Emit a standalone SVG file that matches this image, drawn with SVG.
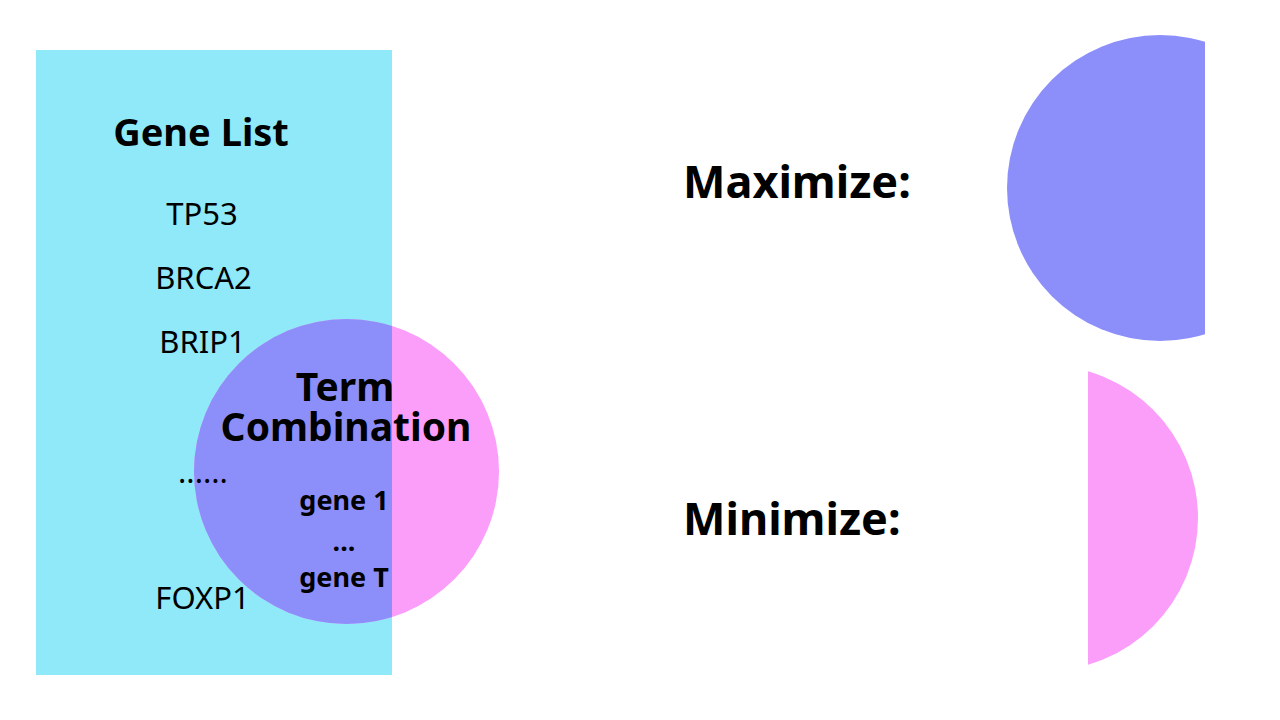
<svg xmlns="http://www.w3.org/2000/svg" width="1280" height="720" viewBox="0 0 1280 720">
<defs>
<style>
text{font-family:"Noto Sans","Open Sans","DejaVu Sans",sans-serif;fill:#000;}
.b{font-weight:bold;}
.c{text-anchor:middle;}
.gene{font-size:31px;}
</style>
<clipPath id="rectClip"><rect x="36" y="50" width="356" height="625"/></clipPath>
<clipPath id="maxClip"><rect x="990" y="20" width="215" height="340"/></clipPath>
<clipPath id="minClip"><rect x="1088" y="360" width="200" height="320"/></clipPath>
</defs>
<rect width="1280" height="720" fill="#ffffff"/>
<g id="gene-list">
<rect x="36" y="50" width="356" height="625" fill="#8fe9f9"/>
</g>
<g id="term-combination">
<circle cx="346.5" cy="471.5" r="152.5" fill="#fa9efa"/>
<circle cx="346.5" cy="471.5" r="152.5" fill="#8c8ffa" clip-path="url(#rectClip)"/>
</g>
<g id="gene-list-labels">
<text class="b c" x="201" y="146" font-size="38">Gene List</text>
<text class="gene c" x="202" y="225">TP53</text>
<text class="gene c" x="203.5" y="289">BRCA2</text>
<text class="gene c" x="202.5" y="353">BRIP1</text>
<text class="gene c" x="203" y="483">......</text>
<text class="gene c" x="202.5" y="609" font-size="31.5">FOXP1</text>
</g>
<g id="term-combination-labels">
<text class="b c" x="345" y="401" font-size="39">Term</text>
<text class="b c" x="346" y="441" font-size="39">Combination</text>
<text class="b c" x="344" y="510" font-size="27">gene 1</text>
<text class="b c" x="344" y="551" font-size="27">...</text>
<text class="b c" x="344" y="587" font-size="27">gene T</text>
</g>
<g id="maximize">
<text class="b" x="683" y="198" font-size="45">Maximize:</text>
<circle cx="1160" cy="188" r="153" fill="#8c8ffa" clip-path="url(#maxClip)"/>
</g>
<g id="minimize">
<text class="b" x="683" y="535" font-size="45">Minimize:</text>
<circle cx="1045" cy="518" r="153" fill="#fa9efa" clip-path="url(#minClip)"/>
</g>
<g id="connectors"/>
</svg>
